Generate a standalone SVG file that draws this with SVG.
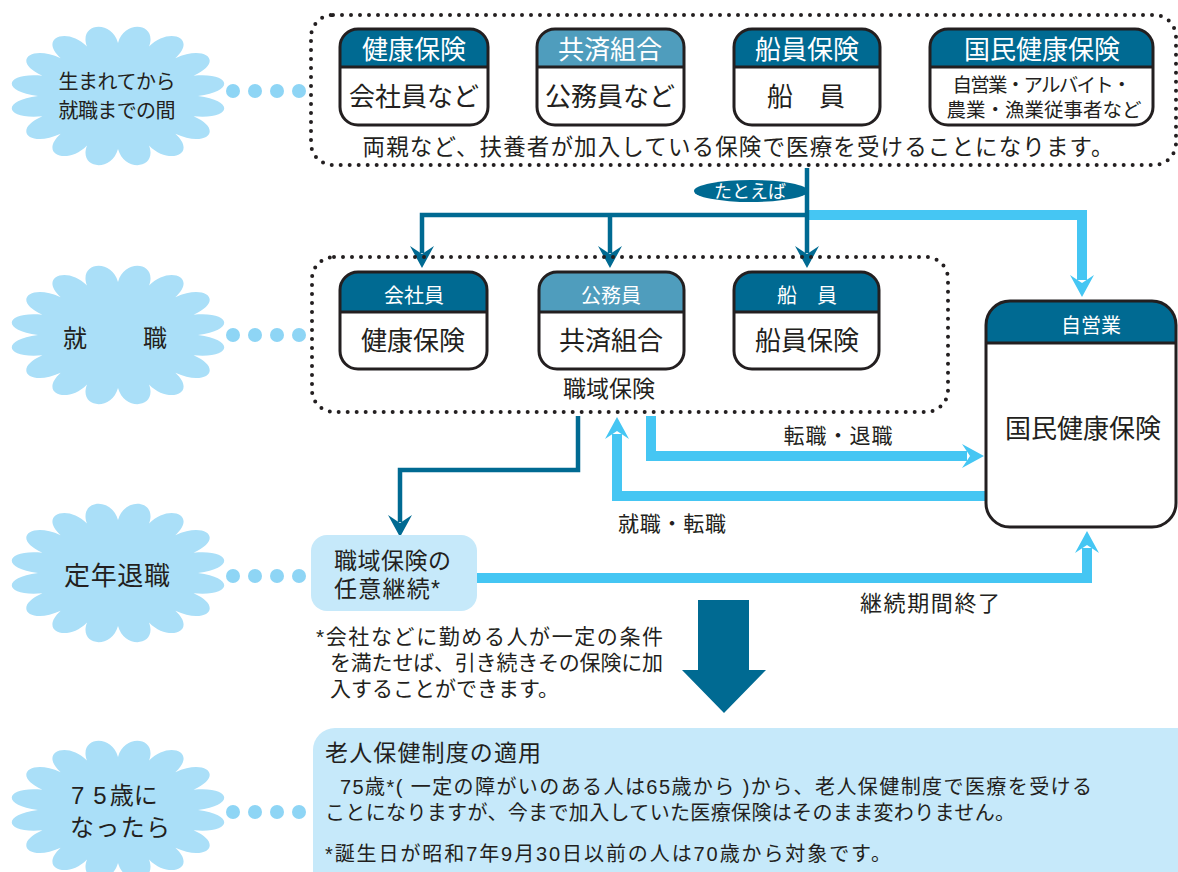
<svg xmlns="http://www.w3.org/2000/svg" width="1178" height="872" viewBox="0 0 1178 872">
<defs>
<style>
text { font-family: "Liberation Sans", "Noto Sans CJK JP", sans-serif; fill: #231f20; }
text.w { fill: #ffffff; }
.dotted { fill: none; stroke: #231f20; stroke-width: 4; stroke-dasharray: 0 9; stroke-linecap: round; }
.burst { fill: #aadff8; }
.bdot { fill: #8ed5f5; }
.box { fill: #ffffff; }
.edge { fill: none; stroke: #231f20; stroke-width: 3; }
.hline { stroke: #231f20; stroke-width: 3; }
.hd { fill: #006a92; }
.hl { fill: #4f9dbd; }
.dk { fill: none; stroke: #006a92; stroke-width: 4.5; }
.lt { fill: none; stroke: #45c6f3; stroke-width: 10; }
.dka { fill: #006a92; }
.lta { fill: #45c6f3; }
.note { fill: #c6e9fa; }
</style>
<path id="burst" d="M80,0 C119,-5 112,-24 75.6,-20.3 C107,-34 88,-52 57.3,-37.8 C80,-58 51,-70 31,-49.4 C40,-73 6.5,-77 0,-53 C-6.5,-77 -40,-73 -31,-49.4 C-51,-70 -80,-58 -57.3,-37.8 C-88,-52 -107,-34 -75.6,-20.3 C-112,-24 -119,-5 -80,0 C-119,5 -112,24 -75.6,20.3 C-107,34 -88,52 -57.3,37.8 C-80,58 -51,70 -31,49.4 C-40,73 -6.5,77 0,53 C6.5,77 40,73 31,49.4 C51,70 80,58 57.3,37.8 C88,52 107,34 75.6,20.3 C112,24 119,5 80,0 Z"/>
</defs>

<!-- stage starbursts -->
<g id="stage-birth">
  <use href="#burst" class="burst" transform="translate(118,96)"/>
  <text x="117" y="89" font-size="20" text-anchor="middle" textLength="117">生まれてから</text>
  <text x="117" y="118" font-size="20" text-anchor="middle" textLength="117">就職までの間</text>
  <circle class="bdot" cx="233" cy="91" r="7"/><circle class="bdot" cx="255" cy="91" r="7"/><circle class="bdot" cx="277" cy="91" r="7"/><circle class="bdot" cx="299" cy="91" r="7"/>
</g>
<g id="stage-job">
  <use href="#burst" class="burst" transform="translate(118,335)"/>
  <text x="63" y="347" font-size="24" textLength="104">就　　職</text>
  <circle class="bdot" cx="233" cy="335" r="7"/><circle class="bdot" cx="255" cy="335" r="7"/><circle class="bdot" cx="277" cy="335" r="7"/><circle class="bdot" cx="299" cy="335" r="7"/>
</g>
<g id="stage-retire">
  <use href="#burst" class="burst" transform="translate(118,573)"/>
  <text x="117" y="585" font-size="26" text-anchor="middle" textLength="106">定年退職</text>
  <circle class="bdot" cx="233" cy="576" r="7"/><circle class="bdot" cx="255" cy="576" r="7"/><circle class="bdot" cx="277" cy="576" r="7"/><circle class="bdot" cx="299" cy="576" r="7"/>
</g>
<g id="stage-75">
  <use href="#burst" class="burst" transform="translate(118,810)"/>
  <text x="71" y="804" font-size="24">7<tspan dx="9">5</tspan><tspan dx="3">歳に</tspan></text>
  <text x="70" y="836" font-size="24" textLength="100">なったら</text>
  <circle class="bdot" cx="233" cy="812" r="7"/><circle class="bdot" cx="255" cy="812" r="7"/><circle class="bdot" cx="277" cy="812" r="7"/><circle class="bdot" cx="299" cy="812" r="7"/>
</g>

<!-- connectors -->
<g id="connectors">
  <path class="lt" d="M807,215 H1082 V280"/>
  <polygon class="lta" points="1082,297 1070,275 1082,283 1094,275"/>
  <path class="dk" d="M422,253 V215 H807 M610,215 V253 M807,168 V253"/>
  <polygon class="dka" points="422,268 410,246 422,254 434,246"/>
  <polygon class="dka" points="610,268 598,246 610,254 622,246"/>
  <polygon class="dka" points="807,268 795,246 807,254 819,246"/>
  <path class="lt" d="M651,416 V456 H967"/>
  <polygon class="lta" points="984,456 962,444 970,456 962,468"/>
  <path class="lt" d="M987,496 H617 V434"/>
  <polygon class="lta" points="617,417 605,439 617,431 629,439"/>
  <path class="dk" d="M578,416 V470 H400 V522"/>
  <polygon class="dka" points="400,537 388,515 400,523 412,515"/>
  <path class="lt" d="M475,578 H1087 V548"/>
  <polygon class="lta" points="1087,531 1075,553 1087,545 1099,553"/>
  <polygon class="dka" points="698,600 749,600 749,670 766,670 724,713 682,670 698,670"/>
  <text x="838" y="443" font-size="21" text-anchor="middle" textLength="109">転職・退職</text>
  <text x="672" y="531" font-size="21" text-anchor="middle" textLength="108">就職・転職</text>
  <text x="930" y="611" font-size="22" text-anchor="middle" textLength="140">継続期間終了</text>
</g>

<!-- top group -->
<g id="group-dependents">
  <rect class="dotted" x="311" y="15" width="865" height="150" rx="22"/>
  <text x="738" y="155" font-size="22.5" text-anchor="middle" textLength="751">両親など、扶養者が加入している保険で医療を受けることになります。</text>
</g>
<g id="top-kenko">
  <rect class="box" x="340" y="29" width="148" height="96" rx="18"/>
  <path class="hd" d="M340,67 V47 A18,18 0 0 1 358,29 H470 A18,18 0 0 1 488,47 V67 Z"/>
  <line class="hline" x1="340" y1="67" x2="488" y2="67"/>
  <rect class="edge" x="340" y="29" width="148" height="96" rx="18"/>
  <text class="w" x="414" y="59" font-size="26" text-anchor="middle">健康保険</text>
  <text x="414" y="106" font-size="26" text-anchor="middle">会社員など</text>
</g>
<g id="top-kyosai">
  <rect class="box" x="537" y="29" width="147" height="96" rx="18"/>
  <path class="hl" d="M537,67 V47 A18,18 0 0 1 555,29 H666 A18,18 0 0 1 684,47 V67 Z"/>
  <line class="hline" x1="537" y1="67" x2="684" y2="67"/>
  <rect class="edge" x="537" y="29" width="147" height="96" rx="18"/>
  <text class="w" x="610" y="59" font-size="26" text-anchor="middle">共済組合</text>
  <text x="610" y="106" font-size="26" text-anchor="middle">公務員など</text>
</g>
<g id="top-senin">
  <rect class="box" x="734" y="29" width="146" height="96" rx="18"/>
  <path class="hd" d="M734,67 V47 A18,18 0 0 1 752,29 H862 A18,18 0 0 1 880,47 V67 Z"/>
  <line class="hline" x1="734" y1="67" x2="880" y2="67"/>
  <rect class="edge" x="734" y="29" width="146" height="96" rx="18"/>
  <text class="w" x="807" y="59" font-size="26" text-anchor="middle">船員保険</text>
  <text x="806" y="106" font-size="26" text-anchor="middle">船　員</text>
</g>
<g id="top-kokuho">
  <rect class="box" x="930" y="29" width="223" height="96" rx="18"/>
  <path class="hd" d="M930,67 V47 A18,18 0 0 1 948,29 H1135 A18,18 0 0 1 1153,47 V67 Z"/>
  <line class="hline" x1="930" y1="67" x2="1153" y2="67"/>
  <rect class="edge" x="930" y="29" width="223" height="96" rx="18"/>
  <text class="w" x="1042" y="59" font-size="26" text-anchor="middle">国民健康保険</text>
  <text x="1042" y="92" font-size="19.5" text-anchor="middle" textLength="179">自営業・アルバイト・</text>
  <text x="1044" y="117" font-size="19.5" text-anchor="middle" textLength="195">農業・漁業従事者など</text>
</g>

<g id="tatoeba">
  <ellipse class="dka" cx="751" cy="191" rx="57" ry="11"/>
  <text class="w" x="750" y="198" font-size="18" text-anchor="middle">たとえば</text>
</g>

<!-- middle group -->
<g id="group-shokuiki">
  <rect class="dotted" x="312" y="257" width="636" height="155" rx="22"/>
  <text x="609" y="397" font-size="23" text-anchor="middle">職域保険</text>
</g>
<g id="mid-kaisha">
  <rect class="box" x="340" y="272" width="147" height="97" rx="18"/>
  <path class="hd" d="M340,312 V290 A18,18 0 0 1 358,272 H469 A18,18 0 0 1 487,290 V312 Z"/>
  <line class="hline" x1="340" y1="312" x2="487" y2="312"/>
  <rect class="edge" x="340" y="272" width="147" height="97" rx="18"/>
  <text class="w" x="414" y="303" font-size="20" text-anchor="middle">会社員</text>
  <text x="413" y="350" font-size="26" text-anchor="middle">健康保険</text>
</g>
<g id="mid-koumu">
  <rect class="box" x="539" y="272" width="145" height="97" rx="18"/>
  <path class="hl" d="M539,312 V290 A18,18 0 0 1 557,272 H666 A18,18 0 0 1 684,290 V312 Z"/>
  <line class="hline" x1="539" y1="312" x2="684" y2="312"/>
  <rect class="edge" x="539" y="272" width="145" height="97" rx="18"/>
  <text class="w" x="611" y="303" font-size="20" text-anchor="middle">公務員</text>
  <text x="611" y="350" font-size="26" text-anchor="middle">共済組合</text>
</g>
<g id="mid-senin">
  <rect class="box" x="734" y="272" width="145" height="97" rx="18"/>
  <path class="hd" d="M734,312 V290 A18,18 0 0 1 752,272 H861 A18,18 0 0 1 879,290 V312 Z"/>
  <line class="hline" x1="734" y1="312" x2="879" y2="312"/>
  <rect class="edge" x="734" y="272" width="145" height="97" rx="18"/>
  <text class="w" x="807" y="303" font-size="20" text-anchor="middle">船　員</text>
  <text x="807" y="350" font-size="26" text-anchor="middle">船員保険</text>
</g>

<g id="jieigyo">
  <rect class="box" x="986" y="301" width="190" height="226" rx="24"/>
  <path class="hd" d="M986,343 V325 A24,24 0 0 1 1010,301 H1152 A24,24 0 0 1 1176,325 V343 Z"/>
  <line class="hline" x1="986" y1="343" x2="1176" y2="343"/>
  <rect class="edge" x="986" y="301" width="190" height="226" rx="24"/>
  <text class="w" x="1091" y="333" font-size="20" text-anchor="middle">自営業</text>
  <text x="1083" y="438" font-size="26" text-anchor="middle">国民健康保険</text>
</g>

<g id="nini-keizoku">
  <rect class="note" x="311" y="535" width="166" height="76" rx="16"/>
  <text x="334" y="569" font-size="23" textLength="117">職域保険の</text>
  <text x="334" y="597" font-size="23" textLength="106">任意継続*</text>
</g>

<g id="footnote">
  <text x="316" y="644" font-size="21" textLength="347">*会社などに勤める人が一定の条件</text>
  <text x="330" y="670" font-size="21" textLength="333">を満たせば、引き続きその保険に加</text>
  <text x="330" y="696" font-size="21" textLength="229">入することができます。</text>
</g>

<g id="roujin">
  <rect class="note" x="313" y="728" width="900" height="170" rx="22"/>
  <text x="325" y="761" font-size="23" textLength="216">老人保健制度の適用</text>
  <text x="340" y="794" font-size="20" textLength="752">75歳*( 一定の障がいのある人は65歳から )から、老人保健制度で医療を受ける</text>
  <text x="325" y="820" font-size="20" textLength="690">ことになりますが、今まで加入していた医療保険はそのまま変わりません。</text>
  <text x="325" y="861" font-size="20" textLength="566">*誕生日が昭和7年9月30日以前の人は70歳から対象です。</text>
</g>
</svg>
